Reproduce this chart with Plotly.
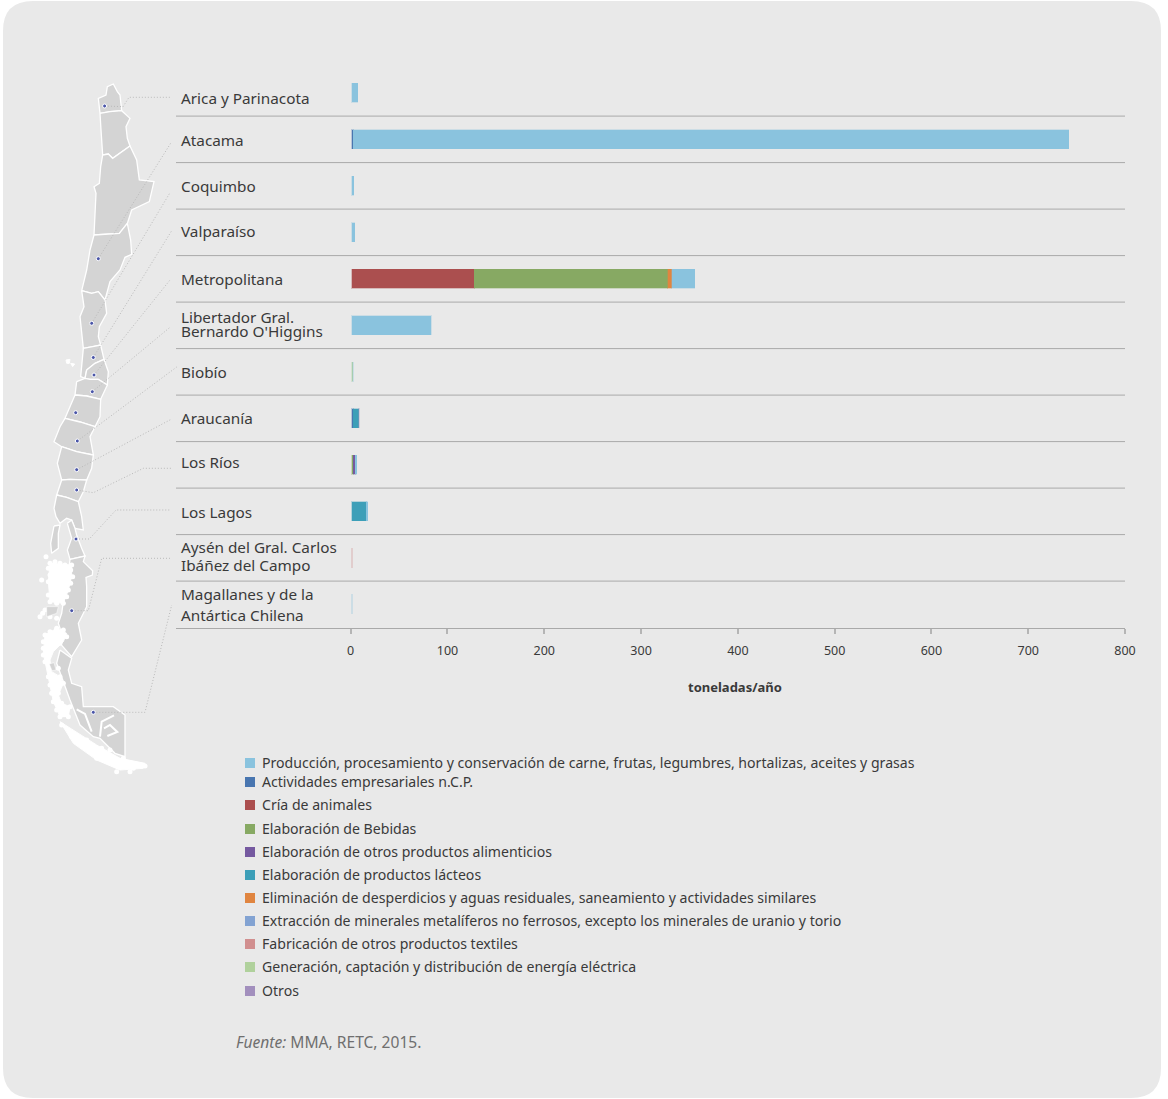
import plotly.graph_objects as go

W, H = 1168, 1099
FONT = "Noto Sans"
TEXT = "#3a3a3a"

# ---- data ----
regions = ["Arica y Parinacota", "Atacama", "Coquimbo", "Valparaíso", "Metropolitana",
           "Libertador Gral. Bernardo O'Higgins", "Biobío", "Araucanía", "Los Ríos",
           "Los Lagos", "Aysén del Gral. Carlos Ibáñez del Campo",
           "Magallanes y de la Antártica Chilena"]
produccion   = [6, 739, 1.6, 3, 23.5, 82, 0.8, 0, 1.5, 1.5, 0, 0.2]
actividades  = [0, 1.5, 0, 0, 0, 0, 0, 1.5, 0, 0, 0, 0]
cria         = [0, 0, 0, 0, 126.5, 0, 0, 0, 0, 0, 0, 0]
bebidas      = [0, 0, 0, 0, 200, 0, 0, 0, 1.2, 0, 0, 0]
otros_alim   = [0, 0, 0, 0, 0, 0, 0, 0, 2.2, 0, 0, 0]
lacteos      = [0, 0, 0, 0, 0, 0, 0, 5.5, 0, 15, 0, 0]
eliminacion  = [0, 0, 0, 0, 4, 0, 0, 0, 0, 0, 0, 0]
extraccion   = [0, 0, 0, 0, 0, 0, 0, 0, 0, 0, 0, 0]
textiles     = [0, 0, 0, 0, 0, 0, 0, 0, 0, 0, 0.3, 0]
generacion   = [0, 0, 0, 0, 0, 0, 0.7, 0, 0, 0, 0, 0]
otros        = [0, 0, 0, 0, 0, 0, 0, 0.7, 0, 0, 0, 0]

series_names = ["Producción, procesamiento y conservación de carne, frutas, legumbres, hortalizas, aceites y grasas",
                "Actividades empresariales n.C.P.", "Cría de animales", "Elaboración de Bebidas",
                "Elaboración de otros productos alimenticios", "Elaboración de productos lácteos",
                "Eliminación de desperdicios y aguas residuales, saneamiento y actividades similares",
                "Extracción de minerales metalíferos no ferrosos, excepto los minerales de uranio y torio",
                "Fabricación de otros productos textiles", "Generación, captación y distribución de energía eléctrica",
                "Otros"]
series_values = [produccion, actividades, cria, bebidas, otros_alim, lacteos, eliminacion,
                 extraccion, textiles, generacion, otros]
series_colors = ["#8ac3de", "#4976b0", "#ab4f4f", "#87a963", "#7559a0", "#3d9fb8", "#e08540",
                 "#83a3d2", "#d18f8f", "#b0d19c", "#a28fbd"]
stack_order = [1, 2, 3, 4, 5, 6, 7, 8, 9, 10, 0]
tick_values = [0, 100, 200, 300, 400, 500, 600, 700, 800]
axis_title = "toneladas/año"
bar_start = 1.3   # the bars of the reference start slightly right of the zero tick

# ---- layout geometry in page pixels ----
plot_l, plot_r, plot_t, plot_b = 176, 1125, 69.6, 627.6
zero_px = 350.7
px_per_unit = (plot_r - zero_px) / 800
label_x = 179
label_lines = [
    [("Arica y Parinacota", 98)], [("Atacama", 140)], [("Coquimbo", 186)], [("Valparaíso", 231)],
    [("Metropolitana", 279)], [("Libertador Gral.", 317), ("Bernardo O'Higgins", 331)],
    [("Biobío", 372)], [("Araucanía", 418)], [("Los Ríos", 462)], [("Los Lagos", 512)],
    [("Aysén del Gral. Carlos", 547), ("Ibáñez del Campo", 565)],
    [("Magallanes y de la", 594), ("Antártica Chilena", 615)],
]
legend_y = [763, 782, 805, 829, 852, 875, 898, 921, 944, 967, 991]

# ---- map outlines (pixels, illustrative) ----
def zm1(pts): return [(30 + x / 3, 70 + y / 3) for x, y in pts]
def zm2(pts): return [(30 + x / 3, 420 + y / 3) for x, y in pts]

map_regions = [
    zm1([(210,130),(205,85),(228,75),(232,50),(250,42),(262,65),(270,75),(275,122),(240,125)]),
    zm1([(210,130),(240,125),(275,122),(300,145),(288,170),(292,205),(300,228),(248,265),(235,252),(218,255),(213,180)]),
    zm1([(218,255),(235,252),(248,265),(300,228),(320,270),(328,330),(372,335),(358,395),(305,420),(292,460),(268,490),(225,492),(192,495),(198,370),(192,350),(208,340),(212,290)]),
    zm1([(192,495),(225,492),(268,490),(292,460),(302,510),(305,553),(285,562),(270,600),(240,635),(225,690),(205,665),(185,670),(155,662),(170,600),(180,540)]),
    zm1([(155,662),(185,670),(205,665),(225,690),(230,730),(208,770),(205,800),(212,825),(190,830),(160,835),(150,740),(162,710)]),
    zm1([(160,835),(190,830),(212,825),(222,868),(195,880),(170,900),(165,925),(152,920),(155,885)]),
    zm1([(170,900),(195,880),(222,868),(235,905),(232,945),(205,928),(180,928),(165,925)]),
    zm1([(140,935),(165,925),(180,928),(205,928),(232,945),(212,988),(170,978),(135,975)]),
    zm1([(135,975),(170,978),(212,988),(210,1040),(195,1070),(150,1056),(105,1045),(125,1000)]),
    zm2([(105,-5),(150,6),(195,20),(180,50),(190,105),(140,95),(95,80),(72,65),(90,20)]),
    zm2([(95,80),(140,95),(190,105),(185,145),(170,180),(120,178),(95,180),(82,130)]),
    zm2([(95,180),(120,178),(170,180),(160,215),(145,245),(110,232),(80,225)]),
    zm2([(80,225),(110,232),(145,245),(155,290),(160,330),(135,325),(125,300),(110,295),(90,310),(78,290),(72,265)]),
    zm2([(112,310),(125,300),(135,325),(140,345),(155,385),(165,408),(120,418),(112,390),(125,355)]),
    zm2([(72,318),(90,315),(85,340),(85,385),(65,400),(62,370)]),
    zm2([(120,418),(165,408),(160,425),(188,452),(187,465),(168,472),(170,500),(170,560),(155,590),(145,610),(155,660),(125,710),(90,670),(95,640),(85,610),(95,580),(105,510),(115,460)]),
    zm2([(90,690),(125,715),(115,750),(125,790),(155,800),(160,860),(250,860),(285,885),(285,1010),(255,1000),(210,955),(190,950),(150,915),(120,840),(80,730)]),
]
map_islands = [
    zm2([(60,430),(125,435),(125,470),(115,510),(100,550),(60,545),(55,485)]),
    zm2([(45,645),(80,625),(110,640),(100,665),(70,695),(60,720),(65,755),(90,770),(100,790),(85,825),(95,850),(120,860),(115,890),(90,890),(70,845),(60,795),(50,745),(40,700)]),
    zm2([(90,905),(130,930),(200,975),(270,1015),(345,1030),(340,1045),(270,1050),(200,1020),(130,970)]),
    zm1([(108,870),(120,868),(118,880),(110,880)]),
    zm1([(122,880),(134,882),(128,890)]),
]
map_gray_pockets = [
    zm2([(50,560),(85,560),(80,580),(50,590)]),
    zm2([(58,732),(72,728),(78,750),(66,752)]),
]
map_channels = [
    zm2([(210,950),(215,905),(252,886)]),
    zm2([(222,925),(240,915),(262,936),(232,948)]),
    zm2([(140,868),(165,882),(185,935)]),
]
island_pts = zm2([
    (60,430),(75,425),(90,430),(105,435),(125,435),(55,445),(122,450),
    (60,465),(128,470),(55,485),(122,490),(65,505),(115,510),(55,525),(110,530),(60,545),(80,550),
    (100,550),(45,570),(38,580),(30,590),(60,590),(80,595),(48,410),(35,480),
    (45,645),(60,635),(80,625),(100,630),(40,665),(110,650),(40,685),(90,670),(40,705),(45,725),
    (85,745),(55,770),(90,770),(60,795),(100,790),(65,820),(85,820),(70,845),
    (95,850),(80,870),(120,860),(90,890),(115,890),
    (95,915),(125,950),(150,965),(170,960),(165,985),(190,985),
    (215,985),(220,1005),(240,990),(265,1020),(280,1015),(270,1040),(295,1030),
    (310,1045),(330,1035),(345,1038),(300,1055),(260,1055),(200,1015),
])
map_dots_x = [104.6, 98.3, 91.7, 93.3, 94, 92.3, 75.7, 77.3, 76.7, 76.7, 76, 71.7, 93.3]
map_dots_y = [106, 258.7, 323.3, 357.5, 375, 391.7, 412.7, 441, 469.7, 490, 539, 610.7, 712.3]
leaders = [
    [(105,106),(123,106.7),(129,97.3),(171,97.3)],
    [(98.3,258.7),(171,142.7)],
    [(91.7,323.3),(170,192.7)],
    [(93.3,357.3),(171.7,230.7)],
    [(94,375),(170,280)],
    [(92.3,391.7),(170,327.3)],
    [(77.3,441),(176.7,367)],
    [(76.7,469.7),(171.7,419)],
    [(76.7,490),(93.3,492.7),(143.3,468.3),(171,468.3)],
    [(76,539),(89.3,539),(116,510),(170,510)],
    [(71.7,610.7),(88.3,610.7),(101.7,558.3),(170,558.3)],
    [(93.3,712.3),(145,712.3),(171.7,605)],
]

# ---- figure ----
fig = go.Figure()

def hexa(c, a):
    return f"rgba({int(c[1:3],16)},{int(c[3:5],16)},{int(c[5:7],16)},{a})"

# invisible first segment of the stack: the bars start just right of the zero tick
fig.add_bar(y=regions, x=[bar_start] * len(regions), orientation="h",
            marker=dict(color="rgba(0,0,0,0)", line=dict(width=0)),
            showlegend=False, hoverinfo="skip", xaxis="x", yaxis="y")
for i in stack_order:
    fig.add_bar(y=regions, x=[v if v else None for v in series_values[i]], name=series_names[i],
                orientation="h",
                marker=dict(color=series_colors[i], line=dict(color=hexa(series_colors[i], 0.3), width=1)),
                showlegend=False, xaxis="x", yaxis="y")

def add_poly(poly, fill, line_w):
    fig.add_scatter(x=[p[0] for p in poly] + [poly[0][0]], y=[p[1] for p in poly] + [poly[0][1]],
                    mode="lines", fill="toself", fillcolor=fill, line=dict(color="#ffffff", width=line_w),
                    xaxis="x2", yaxis="y2", showlegend=False, hoverinfo="skip")

for poly in map_regions:
    add_poly(poly, "#d4d4d4", 1.3)
for poly in map_islands:
    add_poly(poly, "#ffffff", 1)
fig.add_scatter(x=[p[0] for p in island_pts], y=[p[1] for p in island_pts], mode="markers",
                marker=dict(size=5, color="#ffffff"),
                xaxis="x2", yaxis="y2", showlegend=False, hoverinfo="skip")
for poly in map_gray_pockets:
    add_poly(poly, "#d4d4d4", 0.5)
for path in map_channels:
    fig.add_scatter(x=[p[0] for p in path], y=[p[1] for p in path], mode="lines",
                    line=dict(color="#ffffff", width=2),
                    xaxis="x2", yaxis="y2", showlegend=False, hoverinfo="skip")
for path in leaders:
    fig.add_scatter(x=[p[0] for p in path], y=[p[1] for p in path], mode="lines",
                    line=dict(color="#b9b9b9", width=1, dash="1px,2px"),
                    xaxis="x2", yaxis="y2", showlegend=False, hoverinfo="skip")
fig.add_scatter(x=map_dots_x, y=map_dots_y, mode="markers",
                marker=dict(size=4, color="#4a55a8", line=dict(color="#ffffff", width=1)),
                xaxis="x2", yaxis="y2", showlegend=False, hoverinfo="skip")
fig.add_scatter(x=[250] * len(legend_y), y=legend_y, mode="markers",
                marker=dict(symbol="square", size=10, color=series_colors),
                xaxis="x2", yaxis="y2", showlegend=False, hoverinfo="skip")

annotations = []
for lines in label_lines:
    for text, y in lines:
        annotations.append(dict(x=label_x, y=y - 0.5, xref="x2", yref="y2", text=text, showarrow=False,
                                xanchor="left", yanchor="middle",
                                font=dict(family=FONT, size=15.3, color=TEXT)))
for name, y in zip(series_names, legend_y):
    annotations.append(dict(x=260.3, y=y - 0.8, xref="x2", yref="y2", text=name, showarrow=False,
                            xanchor="left", yanchor="middle",
                            font=dict(family=FONT, size=14.1, color=TEXT)))
annotations.append(dict(x=734.5, y=687, xref="x2", yref="y2", text=f"<b>{axis_title}</b>", showarrow=False,
                        font=dict(family=FONT, size=13, color=TEXT)))
annotations.append(dict(x=234, y=1042, xref="x2", yref="y2", text="<i>Fuente:</i> MMA, RETC, 2015.",
                        showarrow=False, xanchor="left",
                        font=dict(family=FONT, size=15.6, color="#6f6f6f")))

def px(x): return x / W
def py(y): return 1 - y / H

r = 30
l, t, rr, b = 3, 1, 1161, 1098
bg_path = (f"M {px(l+r)} {py(t)} L {px(rr-r)} {py(t)} Q {px(rr)} {py(t)} {px(rr)} {py(t+r)} "
           f"L {px(rr)} {py(b-r)} Q {px(rr)} {py(b)} {px(rr-r)} {py(b)} "
           f"L {px(l+r)} {py(b)} Q {px(l)} {py(b)} {px(l)} {py(b-r)} "
           f"L {px(l)} {py(t+r)} Q {px(l)} {py(t)} {px(l+r)} {py(t)} Z")
shapes = [dict(type="path", path=bg_path, xref="paper", yref="paper", fillcolor="#e9e9e9",
               line=dict(width=0), layer="below")]
for i in range(1, len(regions)):
    shapes.append(dict(type="line", xref="paper", yref="y", x0=px(plot_l), x1=px(plot_r),
                       y0=i - 0.5, y1=i - 0.5, line=dict(color="#a9a9a9", width=1)))

fig.update_layout(
    width=W, height=H, margin=dict(l=0, r=0, t=0, b=0, pad=0, autoexpand=False), autosize=False,
    paper_bgcolor="#ffffff", plot_bgcolor="rgba(0,0,0,0)",
    barmode="stack", bargap=0.59, showlegend=False,
    font=dict(family=FONT, color=TEXT),
    annotations=annotations, shapes=shapes,
    xaxis=dict(domain=[px(plot_l), px(plot_r)],
               range=[(plot_l - zero_px) / px_per_unit, 800],
               tickmode="array", tickvals=tick_values, ticks="outside", ticklen=5, tickwidth=2,
               tickcolor="#b5b5b5", showgrid=False, zeroline=False, showline=True, linecolor="#a9a9a9",
               linewidth=1, tickfont=dict(family=FONT, size=12.5, color=TEXT), ticklabelstandoff=6, anchor="y"),
    yaxis=dict(domain=[py(plot_b), py(plot_t)], categoryorder="array", categoryarray=regions,
               autorange="reversed", showticklabels=False, ticks="", showgrid=False, zeroline=False,
               showline=False, anchor="x"),
    xaxis2=dict(domain=[0, 1], range=[0, W], visible=False, anchor="y2"),
    yaxis2=dict(domain=[0, 1], range=[H, 0], visible=False, anchor="x2"),
)

fig.write_html("out.html", config=dict(displayModeBar=False, responsive=False),
               default_width=f"{W}px", default_height=f"{H}px",
               post_script="document.body.style.margin='0';")
